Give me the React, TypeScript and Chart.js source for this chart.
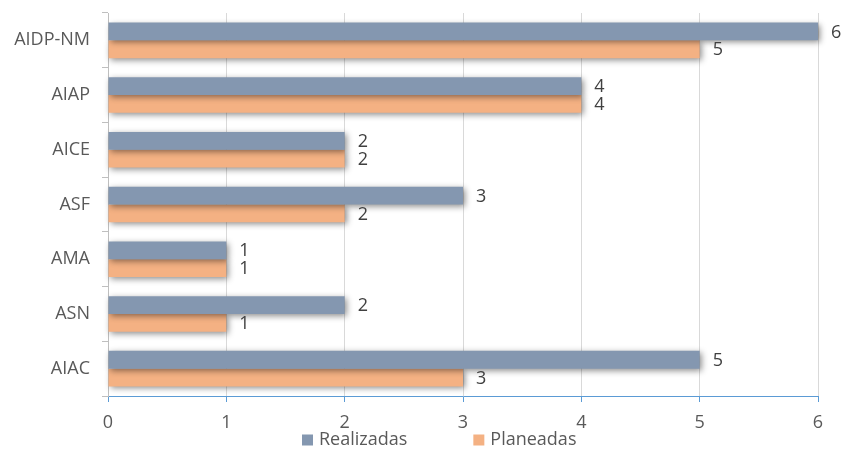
import React, { useEffect, useRef } from "react";
import { Chart, registerables } from "chart.js";

Chart.register(...registerables);

const categories = ["AIDP-NM", "AIAP", "AICE", "ASF", "AMA", "ASN", "AIAC"];
const realizadas = [6, 4, 2, 3, 1, 2, 5];
const planeadas = [5, 4, 2, 2, 1, 1, 3];
const xTicks = [0, 1, 2, 3, 4, 5, 6];
const seriesNames = ["Realizadas", "Planeadas"];
const seriesColors = ["#8497b0", "#f4b183"];

const FONT = "'Open Sans', sans-serif";
const FONT_SIZE = 18;

export default function App() {
  const ref = useRef<HTMLCanvasElement>(null);

  useEffect(() => {
    if (!ref.current) return;

    const shadowPlugin = {
      id: "barShadow",
      beforeDatasetsDraw(c: any) {
        const ctx = c.ctx;
        ctx.save();
        ctx.shadowColor = "rgba(0,0,0,0.45)";
        ctx.shadowBlur = 6;
        ctx.shadowOffsetX = 2;
        ctx.shadowOffsetY = 2;
      },
      afterDatasetsDraw(c: any) {
        c.ctx.restore();
      },
    };

    const labelsPlugin = {
      id: "valueLabelsAndLegend",
      afterDraw(c: any) {
        const ctx = c.ctx;
        ctx.save();
        ctx.font = `${FONT_SIZE}px ${FONT}`;
        ctx.textAlign = "left";
        ctx.textBaseline = "middle";
        ctx.fillStyle = "#404040";
        c.data.datasets.forEach((ds: any, i: number) => {
          const meta = c.getDatasetMeta(i);
          meta.data.forEach((bar: any, j: number) => {
            ctx.fillText(String(ds.data[j]), bar.x + 13, bar.y + 1);
          });
        });

        // legend
        const boxSize = 11;
        const legendY = 440;
        let x = 302;
        c.data.datasets.forEach((ds: any) => {
          ctx.fillStyle = ds.backgroundColor;
          ctx.fillRect(x, legendY - boxSize / 2, boxSize, boxSize);
          ctx.fillStyle = "#595959";
          const tx = x + boxSize + 6;
          ctx.fillText(ds.label, tx, legendY);
          x = tx + ctx.measureText(ds.label).width + 66;
        });
        ctx.restore();
      },
    };

    const chart = new Chart(ref.current, {
      type: "bar",
      data: {
        labels: categories,
        datasets: [
          {
            label: seriesNames[0],
            data: realizadas,
            backgroundColor: seriesColors[0],
            categoryPercentage: 0.65,
            barPercentage: 1,
            clip: 12 as any,
          },
          {
            label: seriesNames[1],
            data: planeadas,
            backgroundColor: seriesColors[1],
            categoryPercentage: 0.65,
            barPercentage: 1,
            clip: 12 as any,
          },
        ],
      },
      options: {
        indexAxis: "y",
        animation: false,
        responsive: false,
        maintainAspectRatio: false,
        layout: { padding: { top: 13, right: 24, left: 0, bottom: 0 } },
        plugins: {
          legend: { display: false },
          tooltip: { enabled: false },
        },
        scales: {
          x: {
            type: "linear",
            min: 0,
            max: 6,
            afterBuildTicks(scale: any) {
              scale.ticks = xTicks.map((v) => ({ value: v }));
            },
            afterFit(scale: any) {
              scale.height = 53;
              scale.paddingLeft = 0;
              scale.paddingRight = 0;
            },
            ticks: {
              color: "#595959",
              font: { family: FONT, size: FONT_SIZE },
              padding: 10,
            },
            grid: {
              color: "#d9d9d9",
              tickColor: "#5b9bd5",
              tickLength: 6,
              lineWidth: 1,
            },
            border: { color: "#5b9bd5", width: 1 },
          },
          y: {
            type: "category",
            afterFit(scale: any) {
              scale.width = 108;
              scale.paddingTop = 0;
              scale.paddingBottom = 0;
            },
            ticks: {
              color: "#595959",
              font: { family: FONT, size: FONT_SIZE },
              padding: 12,
            },
            grid: {
              drawOnChartArea: false,
              color: "#bfbfbf",
              tickLength: 6,
              offset: true,
            },
            border: { color: "#bfbfbf", width: 1 },
          },
        },
      },
      plugins: [shadowPlugin, labelsPlugin],
    });

    return () => chart.destroy();
  }, []);

  return (
    <div style={{ position: "absolute", left: 0, top: 0, width: 842, height: 449, background: "#ffffff" }}>
      <canvas ref={ref} width={842} height={449} style={{ display: "block" }} />
    </div>
  );
}
